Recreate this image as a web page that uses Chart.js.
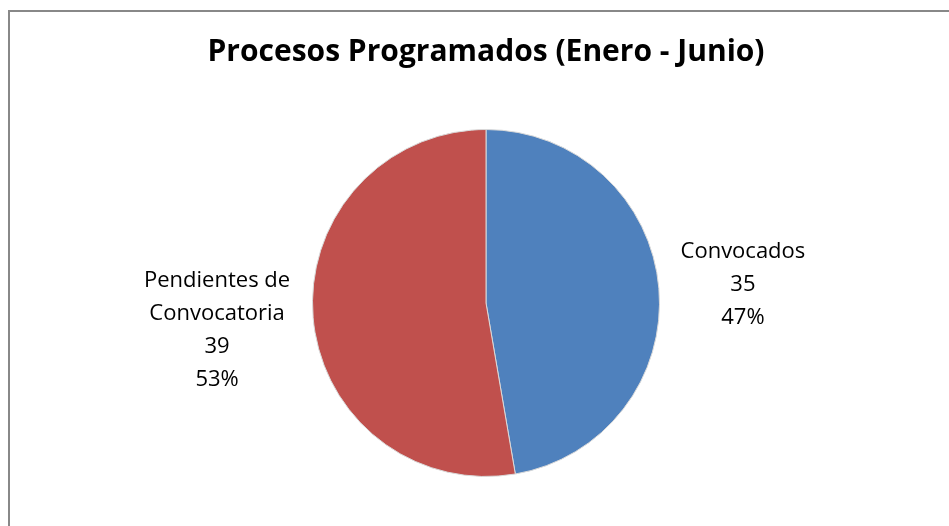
<!DOCTYPE html>
<html>
<head>
<meta charset="utf-8">
<script src="https://cdn.jsdelivr.net/npm/chart.js@4"></script>
<style>
  html, body { margin: 0; padding: 0; background: #fff; }
  #wrap { width: 949px; height: 526px; position: relative; }
</style>
</head>
<body>
<div id="wrap"><canvas id="pie"></canvas></div>
<script>
'use strict';

var TITLE = 'Procesos Programados (Enero - Junio)';
var LABELS = [['Convocados'], ['Pendientes de', 'Convocatoria']];
var VALUES = [35, 39];
var COLORS = ['#4f81bd', '#c0504d'];

var FONT = '"Open Sans", sans-serif';

// frame + title + outside data labels, Excel style
var decor = {
  id: 'decor',
  beforeDraw: function (chart) {
    var ctx = chart.ctx;
    ctx.save();
    ctx.strokeStyle = '#888888';
    ctx.lineWidth = 2;
    ctx.strokeRect(9, 11, 960, 540);
    ctx.restore();
  },
  afterDraw: function (chart) {
    var ctx = chart.ctx;
    ctx.save();
    ctx.fillStyle = '#000';
    ctx.textAlign = 'center';
    ctx.textBaseline = 'middle';
    ctx.font = 'bold 30px ' + FONT;
    ctx.fillText(TITLE, 486, 52);

    var total = VALUES.reduce(function (a, b) { return a + b; }, 0);
    var arcs = chart.getDatasetMeta(0).data;
    ctx.font = '22px ' + FONT;
    var lh = 33;
    arcs.forEach(function (arc, i) {
      var lines = LABELS[i].concat([String(VALUES[i]), Math.round(VALUES[i] / total * 100) + '%']);
      var w = 0;
      lines.forEach(function (t) { w = Math.max(w, ctx.measureText(t).width); });
      var h = lines.length * lh;
      var mid = (arc.startAngle + arc.endAngle) / 2;
      var c = Math.cos(mid), s = Math.sin(mid);
      // box centre sits on the slice's mid ray, just clear of the rim
      var d = arc.outerRadius + 18 + Math.abs(c) * w / 2 + Math.abs(s) * h / 2;
      var cx = arc.x + c * d;
      var cy = arc.y + s * d + 4;
      var top = cy - (lines.length - 1) * lh / 2;
      lines.forEach(function (t, k) { ctx.fillText(t, cx, top + k * lh); });
    });
    ctx.restore();
  }
};

new Chart(document.getElementById('pie'), {
  type: 'pie',
  data: {
    labels: LABELS.map(function (l) { return l.join(' '); }),
    datasets: [{
      data: VALUES,
      backgroundColor: COLORS,
      borderColor: '#d9d9d9',
      borderWidth: 1
    }]
  },
  options: {
    responsive: true,
    maintainAspectRatio: false,
    animation: false,
    layout: { padding: { top: 129, bottom: 49, left: 100, right: 77 } },
    plugins: {
      legend: { display: false },
      tooltip: { enabled: false },
      title: { display: false }
    }
  },
  plugins: [decor]
});
</script>
</body>
</html>
